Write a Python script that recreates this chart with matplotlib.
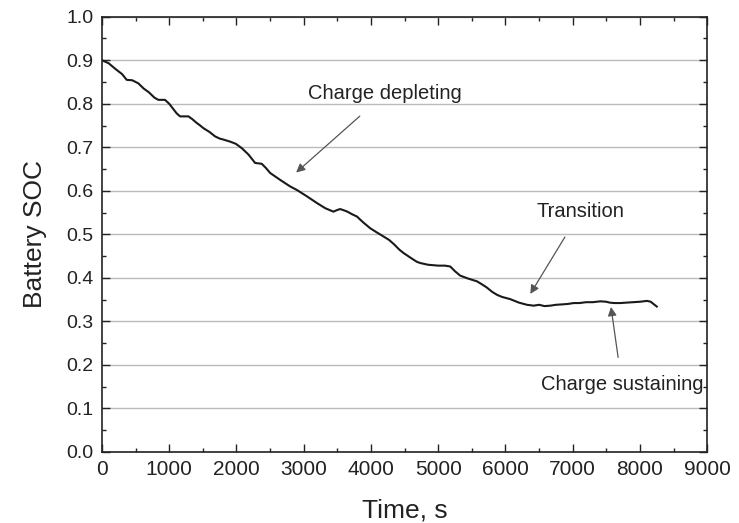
import matplotlib
matplotlib.use("Agg")
import matplotlib.pyplot as plt
from matplotlib.ticker import MultipleLocator, FormatStrFormatter

plt.rcParams['font.family'] = ['Liberation Sans', 'DejaVu Sans']

time_s = [0, 100, 200, 300, 367, 450, 540, 620, 700, 780, 838, 937, 1000, 1050, 1110, 1161,
          1285, 1340, 1400, 1460, 1508, 1600, 1682, 1750, 1800, 1905, 1990,
          2079, 2180, 2277, 2376, 2440, 2500, 2650, 2798, 2897, 3050, 3195, 3320, 3442,
          3500, 3542, 3600, 3650, 3720, 3790, 3880, 3988, 4080, 4186, 4270, 4350, 4420,
          4484, 4600, 4680, 4732, 4850, 5000, 5100, 5179, 5250, 5327, 5450, 5575, 5650,
          5720, 5800, 5873, 5950, 6071, 6200, 6320, 6420, 6500, 6580, 6667, 6750, 6850,
          6930, 7014, 7100, 7200, 7300, 7411, 7500, 7550, 7620, 7708, 7800, 7900, 8000,
          8105, 8160, 8200, 8250]
soc = [0.900, 0.893, 0.880, 0.868, 0.855, 0.854, 0.847, 0.835, 0.826, 0.814, 0.809, 0.809,
       0.800, 0.790, 0.778, 0.771, 0.771, 0.765, 0.757, 0.750, 0.744, 0.735, 0.725, 0.720,
       0.718, 0.713, 0.708, 0.698, 0.683, 0.664, 0.662, 0.652, 0.641, 0.625, 0.610, 0.602,
       0.587, 0.572, 0.560, 0.552, 0.556, 0.558, 0.555, 0.552, 0.546, 0.541, 0.528, 0.514,
       0.505, 0.495, 0.487, 0.476, 0.465, 0.457, 0.445, 0.437, 0.434, 0.430, 0.428, 0.428,
       0.426, 0.415, 0.405, 0.398, 0.392, 0.385, 0.378, 0.368, 0.361, 0.356, 0.351, 0.343,
       0.338, 0.336, 0.338, 0.335, 0.336, 0.338, 0.339, 0.340, 0.342, 0.342, 0.344, 0.344,
       0.346, 0.345, 0.343, 0.342, 0.342, 0.343, 0.344, 0.345, 0.347, 0.345, 0.340, 0.334]

annotations = [
    ("Charge depleting", (2887, 0.642), (4210, 0.823)),
    ("Transition", (6369, 0.363), (7113, 0.552)),
    ("Charge sustaining", (7569, 0.333), (7733, 0.154)),
]

fig = plt.figure(figsize=(7.39, 5.23), dpi=100)
ax = fig.add_axes([0.138, 0.136, 0.819, 0.832])

ax.plot(time_s, soc, color='#1a1a1a', lw=1.5)

for txt, xy, xytext in annotations:
    ax.annotate(txt, xy=xy, xytext=xytext, ha='center', va='center', fontsize=14.5,
                color='#222222',
                arrowprops=dict(arrowstyle='-|>', color='#555555', lw=0.9,
                                shrinkA=11, shrinkB=0, mutation_scale=13))

ax.set_xlim(0, 9000)
ax.set_ylim(0, 1.0)
ax.xaxis.set_major_locator(MultipleLocator(1000))
ax.xaxis.set_minor_locator(MultipleLocator(500))
ax.yaxis.set_major_locator(MultipleLocator(0.1))
ax.yaxis.set_minor_locator(MultipleLocator(0.05))
ax.yaxis.set_major_formatter(FormatStrFormatter('%.1f'))
ax.tick_params(which='both', direction='in', top=True, right=True, colors='#222222')
ax.tick_params(axis='x', which='major', labelsize=15, pad=6)
ax.tick_params(axis='y', which='major', labelsize=14, pad=6)
ax.tick_params(which='major', length=6, width=1)
ax.tick_params(which='minor', length=3, width=1)
ax.grid(axis='y', which='major', color='#bbbbbb', lw=1)
ax.set_axisbelow(True)
for s in ax.spines.values():
    s.set_linewidth(1.2)
    s.set_color('#222222')

ax.set_xlabel('Time, s', fontsize=19, color='#222222', labelpad=14)
ax.set_ylabel('Battery SOC', fontsize=19, color='#222222', labelpad=14)

fig.savefig('out.png', dpi=100)
